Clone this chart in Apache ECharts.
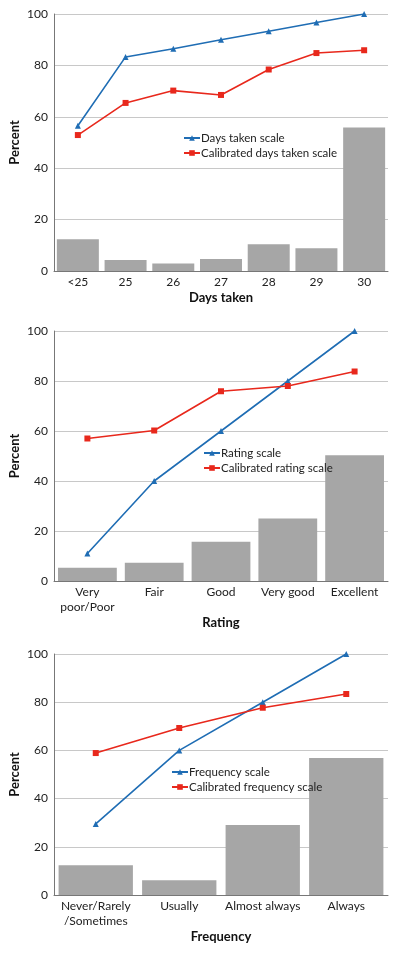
<!DOCTYPE html>
<html><head><meta charset="utf-8">
<script src="https://cdn.jsdelivr.net/npm/echarts@6/dist/echarts.min.js"></script>
<style>html,body{margin:0;padding:0;background:#fff}#c{width:400px;height:953px}</style>
</head><body><div id="c"></div>
<script>
// Panel 1: Days taken
const daysCats = ['<25','25','26','27','28','29','30'];
const daysBars = [12.4, 4.3, 2.9, 4.7, 10.4, 8.9, 55.8];
const daysScale = [56.5, 83.3, 86.5, 90, 93.3, 96.7, 100];
const daysCal = [52.9, 65.4, 70.2, 68.5, 78.4, 84.8, 85.9];
// Panel 2: Rating
const ratingCats = ['Very\npoor/Poor','Fair','Good','Very good','Excellent'];
const ratingBars = [5.3, 7.3, 15.7, 25, 50.3];
const ratingScale = [11, 40, 60, 80, 100];
const ratingCal = [57, 60.2, 75.9, 78, 83.8];
// Panel 3: Frequency
const freqCats = ['Never/Rarely\n/Sometimes','Usually','Almost always','Always'];
const freqBars = [12.3, 6.1, 29, 56.8];
const freqScale = [29.5, 60, 80, 100];
const freqCal = [58.9, 69.3, 77.7, 83.4];
const yTicks = [0, 20, 40, 60, 80, 100];

const FONT = 'Lato';
const BLUE = '#1f6db4', RED = '#e8281c', BAR = '#a6a6a6';
const panels = [
  {cats: daysCats, bars: daysBars, s: daysScale, c: daysCal, name: 'Days taken',
   sName: 'Days taken scale', cName: 'Calibrated days taken scale',
   top: 14, height: 257, nameGap: 20, legend: {left: 178, top: 127}, barGap: '12%'},
  {cats: ratingCats, bars: ratingBars, s: ratingScale, c: ratingCal, name: 'Rating',
   sName: 'Rating scale', cName: 'Calibrated rating scale',
   top: 331, height: 250, nameGap: 35, legend: {left: 198, top: 442}, barGap: '12%'},
  {cats: freqCats, bars: freqBars, s: freqScale, c: freqCal, name: 'Frequency',
   sName: 'Frequency scale', cName: 'Calibrated frequency scale',
   top: 654, height: 241, nameGap: 35, legend: {left: 166, top: 761}, barGap: '11%'}
];

const grid = [], xAxis = [], yAxis = [], series = [], legend = [];
panels.forEach((p, i) => {
  grid.push({left: 54, right: 12, top: p.top, height: p.height, outerBoundsMode: 'none', containLabel: false});
  xAxis.push({type: 'category', gridIndex: i, data: p.cats,
    name: p.name, nameLocation: 'middle', nameGap: p.nameGap, nameMoveOverlap: false,
    nameTextStyle: {fontFamily: FONT, fontWeight: 'bold', fontSize: 13, color: '#111'},
    axisLine: {lineStyle: {color: '#777'}}, axisTick: {show: false},
    axisLabel: {fontFamily: FONT, fontSize: 12, color: '#222', interval: 0, margin: 4, lineHeight: 15}});
  yAxis.push({type: 'value', gridIndex: i, min: 0, max: 100, interval: 20,
    name: 'Percent', nameLocation: 'middle', nameGap: 33, nameMoveOverlap: false,
    nameTextStyle: {fontFamily: FONT, fontWeight: 'bold', fontSize: 13, color: '#111'},
    axisLine: {show: true, lineStyle: {color: '#777'}}, axisTick: {show: false},
    splitLine: {lineStyle: {color: '#c8c8c8'}},
    axisLabel: {fontFamily: FONT, fontSize: 12, color: '#222', margin: 6,
      formatter: v => yTicks.includes(v) ? String(v) : ''}});
  series.push({type: 'bar', xAxisIndex: i, yAxisIndex: i, data: p.bars,
    barCategoryGap: p.barGap, itemStyle: {color: BAR}, silent: true});
  series.push({type: 'line', name: p.sName, xAxisIndex: i, yAxisIndex: i, data: p.s,
    symbol: 'triangle', symbolSize: 6, lineStyle: {color: BLUE, width: 1.6},
    itemStyle: {color: BLUE}, z: 5});
  series.push({type: 'line', name: p.cName, xAxisIndex: i, yAxisIndex: i, data: p.c,
    symbol: 'rect', symbolSize: 6, lineStyle: {color: RED, width: 1.6},
    itemStyle: {color: RED}, z: 5});
  legend.push({data: [p.sName, p.cName], orient: 'vertical', left: p.legend.left, top: p.legend.top,
    itemWidth: 16, itemHeight: 7, itemGap: 3,
    textStyle: {fontFamily: FONT, fontSize: 11.5, color: '#222', padding: [0,0,0,-4]}});
});

const chart = echarts.init(document.getElementById('c'), null, {renderer: 'canvas'});
chart.setOption({animation: false, backgroundColor: '#fff', grid, xAxis, yAxis, series, legend});
</script></body></html>
